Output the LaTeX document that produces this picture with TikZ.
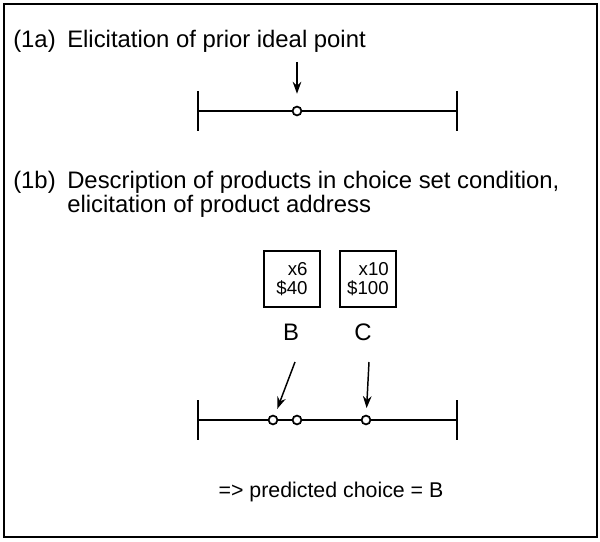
\documentclass[tikz,border=0pt]{standalone}
\usepackage{fontspec}
\setmainfont{Liberation Sans}
\usepackage{tikz}
\usetikzlibrary{arrows.meta, positioning, calc}

\begin{document}
\begin{tikzpicture}[x=0.75pt, y=-0.75pt,
  txt/.style={inner sep=0pt, anchor=base west, font=\fontsize{17.9}{21}\selectfont},
  pt/.style={draw, circle, fill=white, line width=1.3pt, minimum size=6.6pt, inner sep=0pt},
  prod/.style={draw, line width=1.3pt, minimum width=42pt, minimum height=42pt, align=right,
    inner sep=2pt, font=\fontsize{14}{14.5}\selectfont},
  arr/.style={-{Stealth[length=9pt, width=6.5pt]}, line width=1.1pt},
  axis/.style={line width=1.5pt}]
  \useasboundingbox (0,0) rectangle (600,542);
  \draw[line width=1.6pt] (4,4) rectangle (597,537);
  % (1a)
  \node[txt] (lab1a) at (13,48) {(1a)};
  \node[txt] (head1a) at (67,48) {Elicitation of prior ideal point};
  \coordinate (l1a) at (198,111);
  \coordinate (r1a) at (457,111);
  \draw[axis] (l1a) -- (r1a);
  % (1b)
  \node[txt] (lab1b) at (13,188) {(1b)};
  \node[txt] (head1b) at (67,188) {Description of products in choice set condition,};
  \node[txt] (head1b2) at (67,212) {elicitation of product address};
  \coordinate (l1b) at (198,420);
  \coordinate (r1b) at (457,420);
  \draw[axis] (l1b) -- (r1b);
  \foreach \e in {l1a, r1a, l1b, r1b}
    \draw[axis] ($(\e)+(0,-20)$) -- ($(\e)+(0,20)$);
  % ideal point
  \node[pt] (ideal) at (297,111) {};
  \coordinate (a1a) at (297,62);
  \draw[arr, shorten >=9pt] (a1a) -- (ideal);
  % products
  \node[prod] (boxB) at (292,279) {x6\\\$40};
  \node[prod] (boxC) at (368,279) {x10\\\$100};
  \node[txt, anchor=base] (nameB) at (291,340) {B};
  \node[txt, anchor=base] (nameC) at (363,340) {C};
  \node[pt] (pB) at (273,420) {};
  \node[pt] (pB2) at (297,420) {};
  \node[pt] (pC) at (366,420) {};
  \coordinate (aB) at (295,362);
  \coordinate (aC) at (369,362);
  \draw[arr, shorten >=5pt] (aB) -- (pB);
  \draw[arr, shorten >=5pt] (aC) -- (pC);
  \node[txt, anchor=base, font=\fontsize{16}{20}\selectfont] (pred) at (331,497) {=> predicted choice = B};
\end{tikzpicture}
\end{document}
